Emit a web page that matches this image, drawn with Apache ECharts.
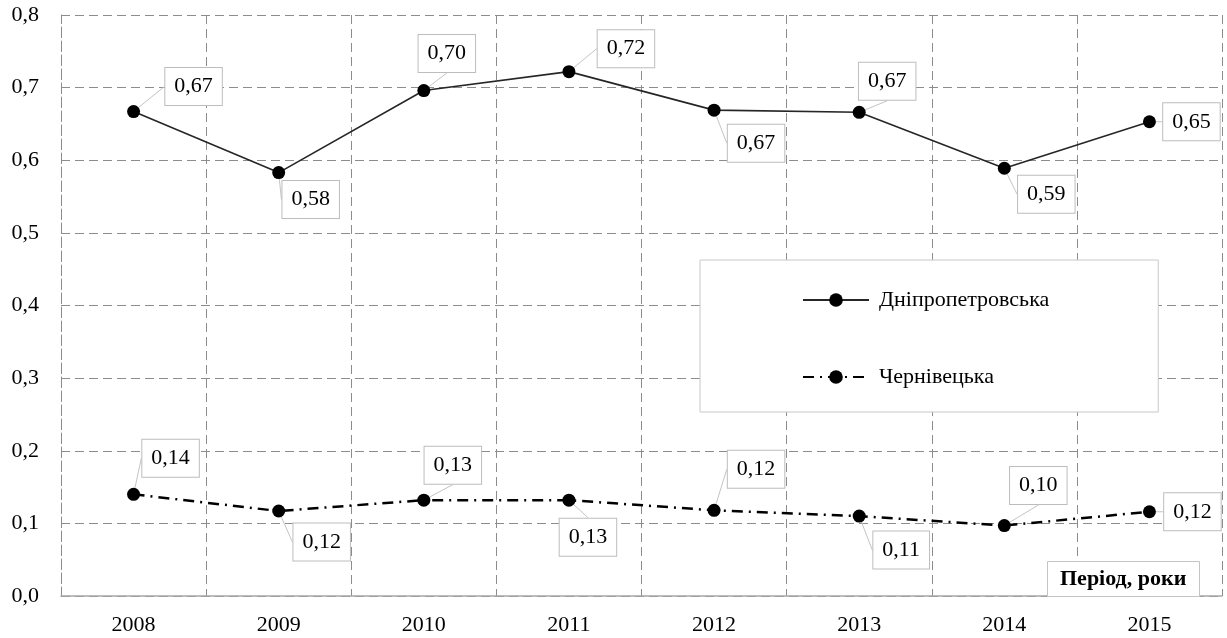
<!DOCTYPE html>
<html><head><meta charset="utf-8">
<script src="https://cdn.jsdelivr.net/npm/echarts@6/dist/echarts.min.js"></script>
<style>html,body{margin:0;padding:0;background:#fff}#c{width:1227px;height:638px}</style>
</head><body><div id="c"></div>
<script>
// ---- data ----
const years = ['2008', '2009', '2010', '2011', '2012', '2013', '2014', '2015'];
const dnipro = [0.667, 0.583, 0.696, 0.722, 0.669, 0.666, 0.589, 0.653];
const cherniv = [0.140, 0.117, 0.132, 0.132, 0.118, 0.110, 0.097, 0.116];
const seriesNames = ['Дніпропетровська', 'Чернівецька'];
const xAxisTitle = 'Період, роки';
const yMin = 0, yMax = 0.8, yStep = 0.1;

// ---- label placement (layout only) ----
const dniproOffsets = [[60,-25],[32,27],[23,-37],[57,-23],[42,33],[28,-31],[42,26],[42,0]];
const chernivOffsets = [[37,-36],[43,31],[29,-35],[19,37],[42,-41],[42,34],[34,-40],[43,0]];

const FONT = 'Liberation Serif';
const comma = (v, d) => v.toFixed(d).replace('.', ',');

const labelStyle = {
  show: true,
  position: 'inside',
  formatter: p => comma(p.value, 2),
  fontFamily: FONT,
  fontSize: 22,
  color: '#000',
  backgroundColor: '#fff',
  borderColor: '#bdbdbd',
  borderWidth: 1,
  padding: [8, 9, 7, 9]
};
const labelLine = { show: true, lineStyle: { color: '#c4c4c4', width: 1 } };

const chart = echarts.init(document.getElementById('c'), null, { renderer: 'canvas' });
chart.setOption({
  animation: false,
  backgroundColor: '#fff',
  grid: { left: 61, right: 5, top: 15, bottom: 42, containLabel: false },
  title: {
    text: xAxisTitle,
    left: 1047, top: 561,
    backgroundColor: '#fff',
    borderColor: '#c4c4c4',
    borderWidth: 1,
    padding: [7, 13, 7, 13],
    textStyle: { fontFamily: FONT, fontSize: 22, fontWeight: 'bold', color: '#000' }
  },
  legend: {
    orient: 'vertical',
    left: 700, top: 260,
    padding: [29, 109, 24, 102],
    itemGap: 55,
    itemWidth: 66,
    itemHeight: 17,
    backgroundColor: '#fff',
    borderColor: '#c8c8c8',
    borderWidth: 1,
    textStyle: { fontFamily: FONT, fontSize: 22, color: '#000', padding: [0, 0, 0, 5] },
    data: seriesNames
  },
  xAxis: {
    type: 'category',
    data: years,
    boundaryGap: true,
    axisLine: { show: true, lineStyle: { color: '#a6a6a6', width: 1.5 } },
    axisTick: { show: false },
    axisLabel: { fontFamily: FONT, fontSize: 22, color: '#000', margin: 18 },
    splitLine: { show: true, lineStyle: { color: '#8c8c8c', type: [9, 5], width: 1 } }
  },
  yAxis: {
    type: 'value',
    min: yMin, max: yMax, interval: yStep,
    axisLine: { show: true, lineStyle: { color: '#8c8c8c', type: [9, 5], width: 1 } },
    axisTick: { show: false },
    axisLabel: { fontFamily: FONT, fontSize: 22, color: '#000', margin: 22, formatter: v => comma(v, 1) },
    splitLine: { show: true, lineStyle: { color: '#8c8c8c', type: [9, 5], width: 1 } }
  },
  series: [
    {
      name: seriesNames[0],
      type: 'line',
      data: dnipro,
      symbol: 'circle',
      symbolSize: 13,
      itemStyle: { color: '#000' },
      lineStyle: { color: '#262626', width: 1.6, type: 'solid' },
      label: labelStyle,
      labelLine: labelLine,
      labelLayout: p => ({ dx: dniproOffsets[p.dataIndex][0], dy: dniproOffsets[p.dataIndex][1] }),
      z: 5
    },
    {
      name: seriesNames[1],
      type: 'line',
      data: cherniv,
      symbol: 'circle',
      symbolSize: 13,
      itemStyle: { color: '#000' },
      lineStyle: { color: '#000', width: 2.5, type: [11, 6, 2, 6] },
      label: labelStyle,
      labelLine: labelLine,
      labelLayout: p => ({ dx: chernivOffsets[p.dataIndex][0], dy: chernivOffsets[p.dataIndex][1] }),
      z: 5
    }
  ]
});
</script>
</body></html>
